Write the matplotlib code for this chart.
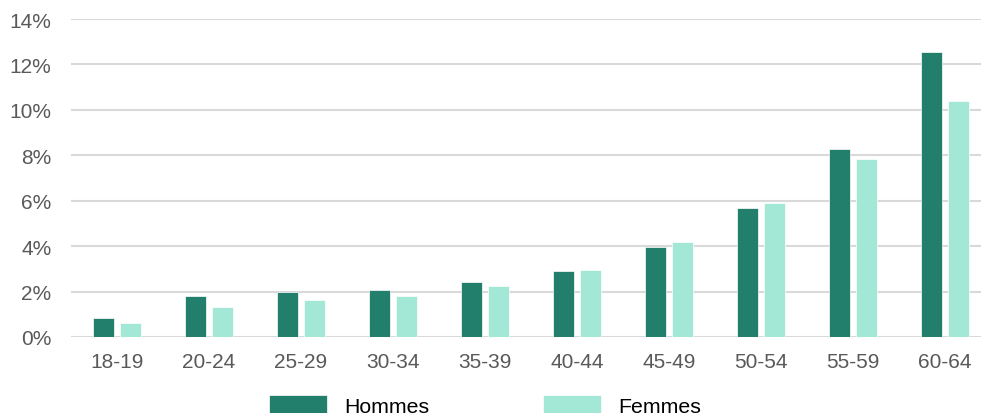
import matplotlib.pyplot as plt
import numpy as np

plt.rcParams['font.family'] = ['Liberation Sans', 'DejaVu Sans']

# data
categories = ['18-19', '20-24', '25-29', '30-34', '35-39', '40-44', '45-49', '50-54', '55-59', '60-64']
hommes = [0.84, 1.82, 1.99, 2.09, 2.44, 2.91, 3.97, 5.70, 8.29, 12.55]
femmes = [0.62, 1.34, 1.65, 1.79, 2.26, 2.97, 4.19, 5.88, 7.85, 10.38]
yticks = [0, 2, 4, 6, 8, 10, 12, 14]

DARK = '#217f6b'
LIGHT = '#a3e7d6'

fig = plt.figure(figsize=(9.81, 4.14), dpi=100)
ax = fig.add_axes([71/981, 1 - 338/414, 1 - 71/981, (338 - 20)/414])

x = np.arange(len(categories))
off = 0.143
w = 0.225
ax.bar(x - off, hommes, w, color=DARK, edgecolor='white', linewidth=0.5, label='Hommes', zorder=3)
ax.bar(x + off, femmes, w, color=LIGHT, edgecolor='white', linewidth=0.5, label='Femmes', zorder=3)

ax.set_xlim(-0.5, 9.5 - 10/92)
ax.set_ylim(0, 14)
ax.set_yticks(yticks)
ax.set_yticklabels([f'{v}%' for v in yticks])
ax.set_xticks(x)
ax.set_xticklabels(categories)

ax.grid(axis='y', color='#d9d9d9', linewidth=1.5, zorder=0)
for s in ax.spines.values():
    s.set_visible(False)
ax.tick_params(axis='both', length=0, labelsize=15, colors='#595959')
ax.tick_params(axis='x', pad=11)
ax.tick_params(axis='y', pad=14)

# legend sits at the bottom edge, partly cut off as in the original
fig.legend(loc='upper left', bbox_to_anchor=(269/981, 1 - 396/414), ncol=2,
           frameon=False, fontsize=15.3, handlelength=2.74, handleheight=1.0,
           handletextpad=0.81, columnspacing=5.35, borderpad=0, borderaxespad=0)

fig.savefig('out.png', dpi=100)
